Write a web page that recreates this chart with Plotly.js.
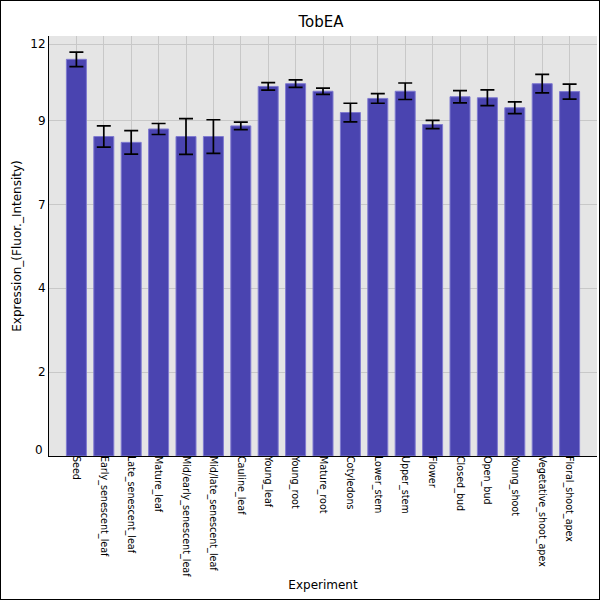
<!DOCTYPE html>
<html>
<head>
<meta charset="utf-8">
<script src="https://cdn.plot.ly/plotly-3.0.1.min.js"></script>
<style>
  html, body { margin:0; padding:0; background:#fff; }
  #chart { width:600px; height:600px; box-sizing:border-box; border:1px solid #000; }
</style>
</head>
<body>
<div id="chart"></div>
<script>
  // --------- Data ---------
  const experiments = ['Seed','Early_senescent_leaf','Late_senescent_leaf','Mature_leaf',
    'Mid/early_senescent_leaf','Mid/late_senescent_leaf','Cauline_leaf','Young_leaf','Young_root',
    'Mature_root','Cotyledons','Lower_stem','Upper_stem','Flower','Closed_bud','Open_bud',
    'Young_shoot','Vegetative_shoot_apex','Floral_shoot_apex'];
  const expression = [11.56, 9.31, 9.14, 9.53, 9.31, 9.31, 9.62, 10.77, 10.85, 10.63, 10.01,
    10.42, 10.63, 9.66, 10.47, 10.44, 10.15, 10.85, 10.62];
  const errors = [0.21, 0.31, 0.34, 0.16, 0.52, 0.49, 0.11, 0.11, 0.11, 0.09, 0.27, 0.14,
    0.24, 0.12, 0.18, 0.23, 0.17, 0.27, 0.22];
  const yTickVals = [0, 2.445, 4.89, 7.335, 9.78, 12];
  const yTickText = ['', '2','4','7','9','12'];   // the "0" is drawn a bit higher, below

  const FONT = 'DejaVu Sans, sans-serif';

  Plotly.newPlot('chart', [{
    type:'bar',
    x: experiments,
    y: expression,
    marker:{ color:'#4a44b0', line:{ color:'#7f7ad0', width:1 } },
    error_y:{ type:'data', array: errors, visible:true, color:'#000', thickness:1.7, width:7 },
    hoverinfo:'x+y'
  }], {
    width:598, height:598,
    margin:{ l:48, r:2, t:35, b:143 },
    paper_bgcolor:'#fff', plot_bgcolor:'#e5e5e5',
    bargap:0.27,
    showlegend:false,
    font:{ family:FONT, color:'#000' },
    title:{ text:'TobEA', font:{ family:FONT, size:15, color:'#000' }, x:0.535, xanchor:'center', y:0.965, yanchor:'middle' },
    xaxis:{
      title:{ text:'Experiment', font:{ family:FONT, size:12 }, standoff:4 },
      range:[-1, 19], tickangle:90, tickfont:{ family:FONT, size:9.6 },
      ticklabelstandoff:-3,
      showgrid:true, gridcolor:'#c8c8c8', gridwidth:1,
      showline:true, linecolor:'#000', linewidth:1, ticks:'', ticklen:0,
      automargin:false
    },
    yaxis:{
      title:{ text:'Expression_(Fluor._Intensity)', font:{ family:FONT, size:12 }, standoff:6 },
      range:[0, 12.24], tickmode:'array', tickvals:yTickVals, ticktext:yTickText,
      tickfont:{ family:FONT, size:12 },
      showgrid:true, gridcolor:'#c8c8c8', gridwidth:1, zeroline:false,
      showline:true, linecolor:'#000', linewidth:1, ticks:'', ticklen:0,
      automargin:false
    },
    annotations:[{
      text:'0', xref:'paper', yref:'y', x:0, y:yTickVals[0], xanchor:'right', yanchor:'middle',
      xshift:-4, yshift:6, showarrow:false, font:{ family:FONT, size:12, color:'#000' }
    }]
  }, { displayModeBar:false, staticPlot:true });
</script>
</body>
</html>
